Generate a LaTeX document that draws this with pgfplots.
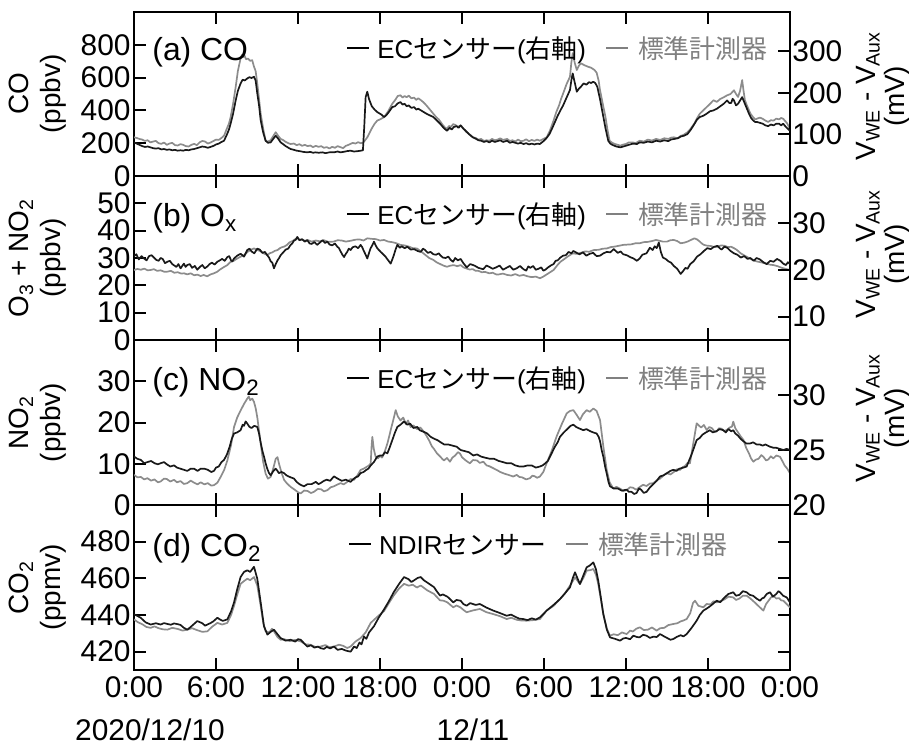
\documentclass[border=0pt]{standalone}
\usepackage{fontspec}
\setmainfont{Liberation Sans}
\newfontfamily\jpfont{Noto Sans CJK JP}
\usepackage{pgfplots}
\pgfplotsset{compat=1.18}

\definecolor{stdgray}{RGB}{140,140,140}
\definecolor{ecblack}{RGB}{25,25,25}
\definecolor{txtgray}{RGB}{128,128,128}

\pgfplotsset{
  base/.style={scale only axis, width=328bp, anchor=north west,
    xmin=0, xmax=48, xtick={0,6,...,48},
    tick align=inside, major tick length=6bp,
    axis line style={line width=1bp, black},
    major tick style={line width=1bp, black},
    tick label style={font=\fontsize{15}{15}\selectfont},
    /pgf/number format/assume math mode=true,
    /pgf/number format/1000 sep={}},
  leftpanel/.style={base, xticklabels={}, ytick pos=left,
    yticklabel style={inner xsep=1.5bp}},
  rightpanel/.style={base, axis x line=none, axis y line*=right,
    ytick pos=right, yticklabel style={inner xsep=1bp}},
  stdline/.style={stdgray, line width=0.85bp, line join=round},
  ecline/.style={ecblack, line width=0.85bp, line join=round},
}
\newcommand{\lgline}[1]{\textcolor{#1}{\rule[4.3bp]{11bp}{1.2bp}}}
\newcommand{\lglabel}{\fontsize{13}{13}\selectfont}

\begin{document}
\begin{tikzpicture}
\useasboundingbox (0,0) rectangle (454.5bp,-372.5bp);

% ---------- (a) CO ----------
\begin{axis}[leftpanel, at={(67bp,-6bp)}, height=82bp,
  ymin=0, ymax=1000, ytick={0,200,...,800}]
\addplot[stdline] coordinates {
(0,236)(0.2,232)(0.4,226)(0.6,222)(0.8,214)(1.0,218)(1.2,205)(1.4,210)(1.6,214)(1.8,200)
(2.0,196)(2.2,204)(2.4,190)(2.6,198)(2.8,202)(3.0,188)(3.2,186)(3.4,194)(3.6,190)(3.8,182)
(4.0,180)(4.2,190)(4.4,196)(4.6,188)(4.8,205)(5.0,214)(5.2,210)(5.4,198)(5.6,204)(5.85,215)
(6.0,222)(6.2,220)(6.4,232)(6.59,246)(6.8,290)(6.95,320)(7.07,359)(7.25,440)(7.44,543)(7.6,640)
(7.8,718)(7.9,738)(8.0,726)(8.1,732)(8.2,712)(8.35,716)(8.5,702)(8.65,706)(8.78,667)(8.9,640)
(9.02,565)(9.15,470)(9.27,380)(9.45,290)(9.63,215)(9.8,210)(10.0,218)(10.2,245)(10.37,267)(10.55,245)
(10.73,226)(10.9,220)(11.1,208)(11.3,200)(11.46,195)(11.7,198)(11.9,188)(12.1,194)(12.3,184)(12.5,190)
(12.7,182)(12.9,186)(13.1,176)(13.3,184)(13.5,178)(13.7,182)(13.9,172)(14.1,176)(14.3,168)(14.5,178)
(14.7,172)(14.9,182)(15.1,176)(15.3,170)(15.5,184)(15.7,190)(15.85,196)(16.0,202)(16.2,198)(16.4,206)
(16.6,200)(16.8,206)(17.07,236)(17.4,290)(17.6,318)(17.8,338)(18.0,345)(18.3,359)(18.6,395)(18.9,441)
(19.1,462)(19.3,488)(19.5,492)(19.65,478)(19.8,488)(19.95,480)(20.1,490)(20.3,474)(20.5,478)(20.65,464)
(20.8,474)(21.0,462)(21.2,448)(21.4,430)(21.6,410)(21.9,380)(22.1,360)(22.3,345)(22.45,328)(22.6,310)
(22.75,296)(22.9,288)(23.05,305)(23.2,300)(23.35,316)(23.5,312)(23.7,300)(23.9,308)(24.1,290)(24.3,270)
(24.5,258)(24.8,236)(25.0,232)(25.2,222)(25.4,226)(25.6,214)(25.8,218)(26.0,215)(26.2,226)(26.4,218)
(26.6,222)(26.8,230)(27.0,220)(27.3,226)(27.5,214)(27.7,218)(27.9,210)(28.1,222)(28.3,212)(28.5,215)
(28.7,224)(28.9,212)(29.1,220)(29.3,214)(29.5,222)(29.7,215)(29.9,224)(30.2,236)(30.45,280)(30.7,338)
(30.9,390)(31.1,430)(31.25,470)(31.4,503)(31.65,560)(31.9,605)(32.0,690)(32.1,749)(32.25,690)(32.4,646)
(32.55,672)(32.7,687)(32.95,676)(33.2,667)(33.45,660)(33.7,646)(33.85,630)(34.0,580)(34.1,523)(34.3,440)
(34.5,359)(34.65,280)(34.8,215)(35.0,202)(35.2,195)(35.4,190)(35.6,185)(35.8,192)(36.0,195)(36.2,205)
(36.5,205)(36.7,200)(37.0,215)(37.3,210)(37.6,222)(37.9,216)(38.2,226)(38.5,220)(38.8,230)(39.1,226)
(39.3,234)(39.5,236)(39.8,230)(40.0,245)(40.2,250)(40.5,267)(40.7,285)(41.0,320)(41.2,352)(41.4,380)
(41.65,400)(41.9,420)(42.15,440)(42.4,462)(42.65,452)(42.9,470)(43.15,480)(43.4,492)(43.65,500)(43.9,523)
(44.05,500)(44.2,482)(44.35,520)(44.5,585)(44.6,520)(44.7,462)(44.85,430)(45.0,400)(45.15,375)(45.3,359)
(45.45,345)(45.6,350)(45.8,356)(46.0,349)(46.2,338)(46.4,330)(46.6,340)(46.8,338)(47.0,350)(47.2,345)
(47.35,354)(47.5,349)(47.65,335)(47.8,320)(48.0,287)
};
\end{axis}
\begin{axis}[rightpanel, at={(67bp,-6bp)}, height=82bp,
  ymin=0, ymax=395, ytick={0,100,200,300}]
\addplot[ecline] coordinates {
(0,81)(0.2,78)(0.4,75)(0.6,72)(0.8,70)(1.0,71)(1.2,69)(1.4,67)(1.6,66)(1.8,67)
(2.0,64)(2.2,65)(2.4,63)(2.6,64)(2.8,62)(3.0,63)(3.2,61)(3.4,62)(3.6,61)(3.8,63)
(4.0,62)(4.2,64)(4.4,65)(4.6,67)(4.8,69)(5.0,71)(5.2,70)(5.4,68)(5.6,70)(5.85,73)
(6.0,76)(6.2,78)(6.4,82)(6.59,85)(6.8,100)(6.95,112)(7.07,126)(7.25,150)(7.44,182)(7.6,205)
(7.8,223)(7.95,232)(8.1,230)(8.29,235)(8.45,238)(8.6,236)(8.78,239)(8.9,230)(9.02,199)(9.15,170)
(9.27,134)(9.45,105)(9.63,85)(9.8,80)(10.0,81)(10.2,90)(10.37,97)(10.55,90)(10.73,81)(10.9,77)
(11.1,72)(11.3,68)(11.46,65)(11.7,63)(11.9,61)(12.1,60)(12.4,58)(12.68,57)(12.9,58)(13.1,56)
(13.3,57)(13.5,56)(13.8,57)(14.0,55)(14.3,57)(14.63,57)(14.9,59)(15.1,57)(15.3,58)(15.6,60)
(15.85,61)(16.1,59)(16.4,60)(16.6,61)(16.75,62)(16.85,120)(16.95,190)(17.07,203)(17.2,185)(17.4,168)
(17.6,160)(17.8,154)(18.1,148)(18.3,142)(18.45,146)(18.6,152)(18.9,166)(19.1,168)(19.3,175)(19.5,178)
(19.65,172)(19.8,174)(19.95,168)(20.1,170)(20.3,164)(20.5,166)(20.65,160)(20.8,162)(21.0,158)(21.2,154)
(21.4,150)(21.65,146)(21.9,142)(22.15,134)(22.4,126)(22.65,116)(22.9,109)(23.1,116)(23.25,112)(23.4,118)
(23.6,120)(23.75,116)(23.9,122)(24.1,114)(24.3,108)(24.5,101)(24.8,93)(25.0,90)(25.2,86)(25.4,85)
(25.6,82)(25.8,84)(26.0,81)(26.2,85)(26.4,82)(26.6,84)(26.8,86)(27.0,82)(27.3,85)(27.5,80)
(27.7,82)(27.9,80)(28.1,78)(28.3,80)(28.5,77)(28.7,79)(28.9,76)(29.1,78)(29.3,76)(29.5,78)
(29.7,77)(30.0,85)(30.2,92)(30.4,101)(30.6,115)(30.8,130)(31.0,145)(31.2,158)(31.4,170)(31.6,185)
(31.75,196)(31.9,207)(32.0,230)(32.1,247)(32.25,225)(32.4,203)(32.55,210)(32.7,215)(32.9,223)(33.1,220)
(33.3,226)(33.45,224)(33.6,227)(33.75,224)(33.9,215)(34.1,185)(34.3,150)(34.5,115)(34.7,85)(34.85,78)
(35.0,75)(35.3,71)(35.6,69)(35.9,72)(36.2,75)(36.5,78)(36.8,77)(37.0,81)(37.3,80)(37.6,83)
(37.9,81)(38.2,85)(38.5,83)(38.8,86)(39.1,84)(39.3,88)(39.5,89)(39.8,91)(40.0,95)(40.25,97)
(40.5,101)(40.75,112)(41.0,125)(41.2,136)(41.4,142)(41.65,145)(41.9,150)(42.15,156)(42.4,158)(42.65,162)
(42.9,168)(43.15,174)(43.4,182)(43.55,176)(43.7,176)(43.8,186)(43.9,182)(44.05,170)(44.2,174)(44.35,182)
(44.5,190)(44.6,182)(44.7,174)(44.85,162)(45.0,150)(45.15,140)(45.3,134)(45.45,130)(45.6,130)(45.8,128)
(46.0,126)(46.2,122)(46.4,120)(46.6,124)(46.8,122)(47.0,126)(47.2,126)(47.35,122)(47.5,126)(47.65,120)
(47.8,115)(48.0,109)
};
\end{axis}

% ---------- (b) Ox ----------
\begin{axis}[leftpanel, at={(67bp,-88bp)}, height=82bp,
  ymin=0, ymax=60, ytick={0,10,...,50}]
\addplot[stdline] coordinates {
(0,25.6)(0.25,26.0)(0.5,25.7)(0.75,26.1)(1.0,25.5)(1.2,25.6)(1.45,25.9)(1.7,25.3)(1.95,25.5)(2.2,25.0)
(2.44,25.0)(2.7,25.3)(2.95,24.6)(3.2,24.8)(3.45,24.3)(3.66,24.4)(3.9,24.0)(4.15,24.4)(4.4,23.7)(4.65,23.9)
(4.88,23.4)(5.1,23.8)(5.35,23.3)(5.6,24.0)(5.85,24.4)(6.1,25.0)(6.3,25.8)(6.55,26.6)(6.83,27.4)(7.05,28.5)
(7.3,29.0)(7.55,29.8)(7.8,30.5)(8.05,31.0)(8.3,32.2)(8.55,33.0)(8.78,33.5)(9.0,33.0)(9.2,32.6)(9.45,31.8)
(9.75,31.1)(9.95,31.8)(10.1,32.0)(10.3,32.6)(10.5,32.9)(10.65,33.5)(10.8,33.9)(11.0,34.2)(11.2,34.8)(11.4,35.8)
(11.6,36.2)(11.8,36.9)(11.95,37.2)(12.15,36.6)(12.3,36.8)(12.5,36.3)(12.7,36.6)(13.0,36.0)(13.3,36.4)(13.6,36.1)
(13.9,36.5)(14.2,35.9)(14.6,36.0)(14.9,36.5)(15.2,36.4)(15.5,36.0)(15.85,36.3)(16.2,36.7)(16.5,36.8)(16.8,36.4)
(17.07,37.2)(17.4,37.0)(17.7,36.9)(18.0,36.4)(18.3,36.6)(18.6,36.0)(18.9,35.8)(19.2,35.4)(19.5,34.8)(19.8,34.6)
(20.1,34.2)(20.4,33.6)(20.7,33.5)(21.0,32.4)(21.3,31.2)(21.6,30.0)(21.9,29.3)(22.15,28.4)(22.4,27.8)(22.65,27.2)
(22.9,26.8)(23.15,27.2)(23.4,27.4)(23.65,27.0)(23.9,27.4)(24.1,26.6)(24.3,26.2)(24.55,25.8)(24.8,25.9)(25.0,25.3)
(25.2,25.3)(25.45,24.8)(25.7,24.9)(26.0,24.4)(26.25,24.6)(26.5,24.0)(26.7,24.0)(27.0,24.3)(27.3,23.8)(27.6,23.6)
(27.9,24.1)(28.2,23.5)(28.5,23.8)(28.8,23.3)(29.1,23.0)(29.4,23.2)(29.7,22.6)(29.95,23.2)(30.2,24.0)(30.45,24.8)
(30.7,25.6)(31.0,27.5)(31.2,28.6)(31.4,29.3)(31.75,30.6)(32.1,31.7)(32.4,31.5)(32.7,31.9)(33.0,32.4)(33.3,32.3)
(33.65,32.9)(34.0,33.0)(34.3,33.4)(34.6,33.5)(34.9,34.0)(35.2,34.2)(35.5,34.5)(35.8,34.8)(36.1,34.9)(36.4,35.0)
(36.7,35.4)(37.0,35.4)(37.3,35.8)(37.6,35.9)(37.9,36.2)(38.2,36.6)(38.45,36.3)(38.7,36.0)(39.0,36.0)(39.25,36.5)
(39.5,36.6)(39.75,36.2)(40.0,35.4)(40.25,35.6)(40.5,36.0)(40.75,36.6)(41.0,37.2)(41.2,36.8)(41.4,36.0)(41.55,35.3)
(41.7,34.8)(41.95,34.5)(42.2,34.4)(42.45,34.0)(42.7,34.1)(42.95,34.6)(43.2,34.5)(43.45,34.0)(43.7,34.1)(43.9,33.6)
(44.1,33.0)(44.4,31.7)(44.7,30.8)(45.0,30.0)(45.3,29.2)(45.6,28.7)(45.9,28.4)(46.2,28.0)(46.5,27.6)(46.8,27.4)
(47.1,27.0)(47.4,26.4)(47.7,26.0)(48.0,25.6)
};
\end{axis}
\begin{axis}[rightpanel, at={(67bp,-88bp)}, height=82bp,
  ymin=5, ymax=40, ytick={10,20,30}]
\addplot[ecline] coordinates {
(0,22.9)(0.17,23.3)(0.35,22.2)(0.55,22.9)(0.73,22.4)(0.92,22.0)(1.1,22.9)(1.28,23.1)(1.46,22.6)(1.63,22.1)
(1.8,21.9)(1.95,22.5)(2.1,22.3)(2.27,21.4)(2.44,21.7)(2.62,21.9)(2.8,21.2)(2.95,20.9)(3.1,20.6)(3.25,21.2)
(3.41,20.3)(3.53,20.8)(3.65,21.3)(3.78,20.6)(3.9,21.0)(4.08,21.2)(4.25,20.4)(4.45,20.8)(4.63,20.0)(4.82,20.6)
(5.0,21.0)(5.18,20.3)(5.37,20.7)(5.53,21.2)(5.7,21.5)(5.9,21.1)(6.1,21.7)(6.28,22.0)(6.45,22.3)(6.64,21.9)
(6.83,22.7)(6.97,22.9)(7.1,22.0)(7.2,21.8)(7.32,22.4)(7.55,23.0)(7.8,23.4)(8.05,22.8)(8.29,24.2)(8.45,24.5)
(8.6,23.9)(8.8,23.5)(9.02,24.5)(9.2,24.3)(9.4,23.6)(9.58,23.8)(9.75,23.1)(9.88,22.6)(10.0,21.8)(10.12,21.5)
(10.24,20.3)(10.37,21.2)(10.5,22.0)(10.62,22.5)(10.73,23.1)(10.92,23.7)(11.1,24.3)(11.28,24.5)(11.46,25.3)(11.58,25.6)
(11.7,26.2)(11.83,26.4)(11.95,27.0)(12.1,26.3)(12.3,26.5)(12.5,26.0)(12.68,26.3)(12.85,25.6)(13.0,25.5)(13.2,25.9)
(13.4,25.3)(13.6,25.8)(13.8,26.3)(13.98,25.7)(14.15,26.0)(14.3,25.4)(14.5,25.2)(14.7,25.6)(14.88,24.9)(15.0,24.6)
(15.1,24.0)(15.25,23.2)(15.37,22.7)(15.5,23.4)(15.6,23.8)(15.72,24.5)(15.85,24.2)(16.0,24.8)(16.2,25.0)(16.4,24.6)
(16.58,25.3)(16.7,24.8)(16.8,24.1)(16.95,23.2)(17.07,22.4)(17.2,23.6)(17.3,24.5)(17.45,25.3)(17.56,26.0)(17.68,25.2)
(17.8,24.6)(17.92,24.2)(18.05,23.8)(18.2,23.4)(18.4,22.8)(18.6,22.0)(18.78,21.3)(18.9,22.2)(19.0,23.0)(19.15,24.4)
(19.27,25.3)(19.45,24.7)(19.6,25.0)(19.8,24.6)(20.0,24.9)(20.25,24.3)(20.5,24.4)(20.75,24.0)(20.98,23.8)(21.15,24.5)
(21.3,24.2)(21.5,23.6)(21.7,23.8)(21.9,23.3)(22.1,23.2)(22.3,23.5)(22.44,23.0)(22.6,22.6)(22.8,22.5)(23.0,22.8)
(23.17,22.1)(23.35,21.7)(23.5,22.5)(23.7,22.0)(23.9,22.3)(24.1,21.4)(24.35,20.5)(24.6,21.2)(24.9,20.9)(25.2,20.4)
(25.55,20.1)(25.8,20.9)(26.0,20.6)(26.25,20.2)(26.5,20.5)(26.75,20.9)(27.0,20.0)(27.25,20.4)(27.5,20.8)(27.75,20.0)
(28.0,20.3)(28.25,20.8)(28.5,20.1)(28.7,19.8)(28.85,20.7)(29.0,20.4)(29.2,20.8)(29.4,20.0)(29.6,20.2)(29.8,20.5)
(29.95,19.8)(30.1,20.0)(30.3,20.5)(30.5,20.9)(30.7,21.2)(30.85,21.9)(31.0,22.0)(31.2,22.6)(31.4,23.0)(31.6,23.1)
(31.8,23.8)(32.0,23.5)(32.15,24.0)(32.4,23.6)(32.6,23.3)(32.85,23.7)(33.1,23.0)(33.35,23.4)(33.6,23.6)(33.85,22.9)
(34.1,23.0)(34.35,23.5)(34.6,23.8)(34.85,23.7)(35.1,24.4)(35.25,24.0)(35.4,23.6)(35.6,23.9)(35.8,23.3)(36.05,23.1)
(36.3,22.7)(36.55,22.4)(36.8,21.9)(37.0,22.4)(37.2,23.2)(37.5,23.5)(37.75,24.7)(37.95,24.2)(38.1,25.0)(38.25,24.6)
(38.4,25.8)(38.55,23.8)(38.7,22.6)(38.9,22.3)(39.1,21.8)(39.3,21.5)(39.5,20.8)(39.75,20.2)(40.0,19.1)(40.15,19.6)
(40.35,20.4)(40.5,20.2)(40.7,21.2)(40.95,21.8)(41.2,22.8)(41.45,23.3)(41.7,24.0)(41.95,24.6)(42.2,24.4)(42.45,24.9)
(42.7,25.1)(42.85,24.6)(43.0,24.3)(43.2,24.9)(43.4,24.7)(43.65,24.0)(43.9,23.5)(44.15,23.2)(44.4,22.6)(44.65,22.9)
(44.9,22.3)(45.1,22.5)(45.35,21.9)(45.55,22.5)(45.8,22.2)(46.05,21.6)(46.3,21.2)(46.55,21.9)(46.8,21.7)(47.05,22.3)
(47.3,21.9)(47.5,21.3)(47.7,21.0)(47.85,21.6)(48.0,21.2)
};
\end{axis}

% ---------- (c) NO2 ----------
\begin{axis}[leftpanel, at={(67bp,-170bp)}, height=82.5bp,
  ymin=0, ymax=40, ytick={0,10,20,30}]
\addplot[stdline] coordinates {
(0,7.3)(0.25,6.7)(0.5,6.8)(0.75,6.2)(0.98,6.5)(1.25,5.9)(1.5,6.2)(1.75,5.5)(1.95,5.7)(2.2,6.4)
(2.4,6.3)(2.65,5.7)(2.93,6.1)(3.15,5.5)(3.4,5.8)(3.65,5.1)(3.9,5.3)(4.15,5.9)(4.4,5.4)(4.65,5.0)
(4.88,5.5)(5.15,5.0)(5.4,5.3)(5.65,4.7)(5.85,4.8)(6.1,5.4)(6.34,6.8)(6.6,8.5)(6.83,10.8)(7.1,14.5)
(7.32,18.9)(7.55,21.2)(7.8,22.9)(8.05,24.5)(8.29,25.8)(8.4,26.3)(8.5,25.4)(8.65,25.8)(8.78,25.0)(8.9,23.5)
(9.02,21.3)(9.15,18.0)(9.27,14.9)(9.45,10.5)(9.63,7.6)(9.8,6.4)(10.0,6.8)(10.2,9.0)(10.37,11.2)(10.5,11.6)
(10.61,10.0)(10.8,7.8)(10.98,6.1)(11.2,5.2)(11.46,4.4)(11.8,3.6)(12.0,3.1)(12.2,2.8)(12.45,3.5)(12.7,3.4)
(12.95,2.9)(13.17,3.2)(13.45,3.9)(13.7,3.8)(13.9,3.3)(14.15,3.6)(14.4,4.3)(14.6,4.5)(14.85,4.9)(15.12,5.3)
(15.35,5.0)(15.6,5.6)(15.85,6.3)(16.1,6.1)(16.35,7.2)(16.58,8.5)(16.8,8.8)(17.0,9.2)(17.2,9.6)(17.32,10.1)
(17.38,14.0)(17.44,16.5)(17.55,13.5)(17.68,11.7)(17.85,11.3)(18.0,11.9)(18.15,11.5)(18.3,12.5)(18.55,15.0)(18.78,18.1)
(19.0,21.0)(19.15,23.0)(19.3,21.5)(19.5,20.5)(19.7,21.2)(19.9,19.6)(20.05,20.5)(20.24,18.9)(20.45,19.3)(20.7,18.4)
(20.95,18.8)(21.22,17.7)(21.4,16.8)(21.6,15.6)(21.8,14.2)(21.95,13.6)(22.15,12.6)(22.39,11.8)(22.55,11.2)(22.68,10.8)
(22.9,11.4)(23.12,10.5)(23.3,11.5)(23.5,12.0)(23.7,12.8)(23.85,12.5)(24.0,11.6)(24.2,11.0)(24.4,10.5)(24.58,10.1)
(24.8,10.9)(25.1,10.8)(25.3,10.2)(25.56,10.5)(25.8,9.6)(26.0,9.4)(26.3,8.9)(26.54,8.5)(26.8,8.0)(27.1,7.6)
(27.4,7.3)(27.75,6.9)(28.0,7.3)(28.2,6.8)(28.4,6.7)(28.7,6.2)(28.97,6.5)(29.15,7.1)(29.3,7.0)(29.5,6.6)
(29.7,6.9)(29.95,8.0)(30.19,10.1)(30.55,13.0)(30.92,16.6)(31.3,19.6)(31.66,22.2)(31.9,22.8)(32.15,23.0)(32.4,21.8)
(32.63,20.6)(32.85,22.0)(33.12,23.0)(33.35,22.6)(33.61,23.4)(33.85,22.8)(34.1,20.6)(34.35,14.0)(34.59,8.5)(34.8,5.5)
(35.07,4.0)(35.3,4.4)(35.6,3.9)(35.8,3.4)(36.05,3.6)(36.3,4.3)(36.5,4.2)(36.75,3.7)(37.02,4.4)(37.25,4.9)
(37.5,4.6)(37.75,5.2)(38.0,5.3)(38.25,6.0)(38.5,6.4)(38.75,7.2)(38.98,7.7)(39.25,7.4)(39.5,8.0)(39.75,8.7)
(39.95,8.5)(40.15,9.2)(40.3,9.4)(40.5,10.2)(40.68,10.1)(40.9,14.5)(41.17,19.8)(41.35,19.2)(41.5,18.8)(41.7,19.4)
(41.9,18.2)(42.1,18.9)(42.3,18.6)(42.45,17.9)(42.63,17.8)(42.8,18.6)(43.0,18.5)(43.2,17.9)(43.37,18.2)(43.6,18.8)
(43.75,19.0)(43.85,20.2)(44.0,18.6)(44.2,17.6)(44.4,16.6)(44.59,15.8)(44.8,13.8)(45.0,12.5)(45.15,11.3)(45.32,10.5)
(45.5,11.0)(45.7,11.2)(45.9,12.1)(46.05,11.7)(46.25,10.8)(46.4,11.0)(46.6,11.8)(46.78,11.3)(47.0,12.0)(47.27,11.7)
(47.45,10.6)(47.6,9.6)(47.8,8.8)(48.0,7.7)
};
\end{axis}
\begin{axis}[rightpanel, at={(67bp,-170bp)}, height=82.5bp,
  ymin=20, ymax=35, ytick={20,25,30}]
\addplot[ecline] coordinates {
(0,24.4)(0.25,24.2)(0.5,24.1)(0.75,23.8)(0.98,23.9)(1.25,24.0)(1.5,23.8)(1.75,23.7)(1.95,23.8)(2.2,23.9)
(2.4,23.7)(2.65,23.5)(2.93,23.6)(3.15,23.4)(3.4,23.3)(3.65,23.2)(3.9,23.1)(4.15,23.3)(4.4,23.3)(4.65,23.1)
(4.88,23.3)(5.15,23.3)(5.4,23.2)(5.65,23.0)(5.85,23.1)(6.0,23.4)(6.2,23.5)(6.4,23.9)(6.59,24.1)(6.8,24.6)
(7.0,25.3)(7.15,26.0)(7.32,26.5)(7.55,26.6)(7.8,26.8)(7.95,27.3)(8.05,27.2)(8.17,27.6)(8.29,27.4)(8.45,27.1)
(8.6,27.0)(8.8,27.2)(9.02,27.1)(9.15,26.5)(9.25,25.8)(9.38,25.0)(9.51,24.4)(9.63,23.8)(9.75,23.3)(9.88,22.9)
(10.0,22.7)(10.2,23.1)(10.37,23.3)(10.5,23.1)(10.6,22.9)(10.8,23.0)(10.98,22.9)(11.15,22.7)(11.3,22.6)(11.5,22.5)
(11.71,22.4)(11.9,22.1)(12.1,21.9)(12.25,21.8)(12.44,21.7)(12.7,21.9)(13.0,21.9)(13.3,22.1)(13.5,21.9)(13.66,22.0)
(13.9,22.2)(14.1,22.3)(14.35,22.2)(14.63,22.6)(14.9,22.4)(15.2,22.2)(15.5,22.3)(15.85,22.1)(16.0,22.3)(16.2,22.5)
(16.4,22.6)(16.58,22.9)(16.8,23.0)(17.0,23.2)(17.15,23.3)(17.32,23.6)(17.55,23.9)(17.8,24.4)(18.0,24.5)(18.2,24.5)
(18.35,24.8)(18.54,24.7)(18.7,25.2)(18.9,25.9)(19.1,26.6)(19.27,27.1)(19.5,27.3)(19.76,27.6)(20.0,27.3)(20.2,27.4)
(20.45,27.0)(20.73,27.1)(20.9,26.8)(21.1,26.7)(21.3,26.6)(21.46,26.5)(21.7,26.2)(22.0,26.0)(22.2,25.9)(22.44,25.7)
(22.7,25.5)(23.0,25.5)(23.3,25.4)(23.61,25.3)(23.9,25.0)(24.2,24.9)(24.5,24.8)(24.83,24.5)(25.1,24.6)(25.4,24.4)
(25.7,24.3)(26.05,24.2)(26.35,24.2)(26.7,24.0)(27.0,23.9)(27.27,23.8)(27.6,23.8)(27.9,23.6)(28.2,23.5)(28.5,23.5)
(28.8,23.6)(29.1,23.6)(29.4,23.4)(29.7,23.5)(29.9,23.6)(30.1,23.8)(30.28,24.0)(30.44,24.4)(30.6,24.8)(30.8,25.3)
(31.0,25.7)(31.17,26.2)(31.45,26.6)(31.7,26.9)(31.95,27.2)(32.15,27.3)(32.35,27.1)(32.5,27.0)(32.7,26.9)(32.88,26.8)
(33.1,26.9)(33.4,26.7)(33.6,26.6)(33.85,26.5)(34.0,26.2)(34.1,25.8)(34.22,25.0)(34.34,24.4)(34.47,23.5)(34.6,22.8)
(34.72,22.1)(34.83,21.7)(35.1,21.5)(35.4,21.5)(35.7,21.3)(36.05,21.4)(36.2,21.2)(36.4,21.2)(36.6,21.0)(36.78,21.1)
(36.95,21.5)(37.1,21.4)(37.3,21.1)(37.51,21.2)(37.75,21.6)(38.0,21.9)(38.25,22.2)(38.49,22.6)(38.75,22.7)(39.0,22.9)
(39.25,23.1)(39.46,23.2)(39.7,23.1)(39.9,23.3)(40.2,23.4)(40.44,23.5)(40.6,24.0)(40.8,24.6)(41.0,25.3)(41.17,25.9)
(41.4,26.1)(41.6,26.4)(41.85,26.6)(42.14,26.8)(42.35,26.6)(42.6,26.7)(42.85,26.9)(43.12,26.8)(43.3,26.6)(43.5,26.9)
(43.7,26.7)(43.85,26.8)(44.0,26.5)(44.2,26.3)(44.4,26.0)(44.59,25.8)(44.8,25.6)(45.1,25.6)(45.3,25.7)(45.56,25.5)
(45.8,25.5)(46.0,25.4)(46.2,25.5)(46.54,25.3)(46.8,25.2)(47.0,25.2)(47.25,25.1)(47.51,25.0)(47.75,25.1)(48.0,25.0)
};
\end{axis}

% ---------- (d) CO2 ----------
\begin{axis}[base, at={(67bp,-252.5bp)}, height=82.5bp,
  ymin=410, ymax=500, ytick={420,440,...,480},
  ytick pos=both, yticklabel pos=left, yticklabel style={inner xsep=1.5bp},
  xticklabels={0:00,6:00,12:00,18:00,0:00,6:00,12:00,18:00,0:00}]
\addplot[stdline] coordinates {
(0,437.6)(0.3,436.0)(0.6,435.0)(0.9,433.5)(1.22,433.0)(1.5,433.8)(1.8,432.8)(2.1,432.2)(2.44,432.0)(2.8,433.0)
(3.2,432.4)(3.55,431.5)(3.9,432.0)(4.25,432.8)(4.6,431.8)(5.0,430.8)(5.37,431.1)(5.7,433.5)(6.1,435.7)(6.45,434.8)
(6.83,435.7)(7.1,440.0)(7.32,445.0)(7.55,451.0)(7.8,457.0)(8.05,458.5)(8.29,459.8)(8.5,459.0)(8.78,460.7)(9.02,456.1)
(9.27,445.0)(9.45,436.0)(9.63,431.1)(9.9,430.5)(10.1,432.5)(10.24,431.1)(10.5,428.0)(10.73,426.5)(11.0,426.8)(11.4,425.8)
(11.8,426.4)(12.2,425.6)(12.55,424.0)(12.9,423.8)(13.3,422.5)(13.66,422.8)(14.0,423.6)(14.3,422.4)(14.63,422.8)(15.0,423.8)
(15.3,423.2)(15.6,422.0)(15.85,422.8)(16.2,425.5)(16.58,427.4)(16.95,430.5)(17.32,435.7)(17.8,439.0)(18.3,442.2)(18.65,446.5)
(19.0,450.6)(19.4,454.5)(19.76,457.0)(20.1,456.0)(20.4,456.5)(20.7,455.0)(20.98,456.1)(21.45,453.5)(21.95,451.5)(22.2,449.5)
(22.39,448.0)(22.65,447.8)(22.93,446.9)(23.15,445.5)(23.36,444.2)(23.6,445.2)(23.9,444.1)(24.1,442.8)(24.34,441.5)(24.8,442.5)
(25.31,443.3)(25.8,441.5)(26.29,440.5)(26.8,439.3)(27.27,437.8)(27.6,438.5)(28.0,437.4)(28.35,437.0)(28.73,436.9)(29.2,437.2)
(29.7,437.8)(30.19,442.4)(30.7,445.0)(31.17,448.7)(31.5,451.5)(31.9,456.0)(32.27,460.5)(32.63,456.9)(32.9,460.5)(33.12,464.2)
(33.4,464.5)(33.61,465.1)(33.8,462.0)(33.97,456.9)(34.15,449.0)(34.34,440.5)(34.6,432.5)(34.83,428.7)(35.1,429.5)(35.4,429.0)
(35.7,430.5)(36.05,429.6)(36.3,431.5)(36.5,431.0)(36.75,432.5)(37.02,433.3)(37.3,431.8)(37.6,432.0)(37.9,433.2)(38.24,431.5)
(38.5,432.8)(38.8,433.0)(39.1,434.5)(39.46,435.1)(39.75,435.5)(40.0,436.5)(40.2,437.0)(40.44,437.8)(40.7,441.0)(40.9,446.5)
(41.05,447.8)(41.3,445.0)(41.66,444.2)(41.9,446.0)(42.2,445.8)(42.4,447.5)(42.63,446.9)(42.9,447.5)(43.2,448.5)(43.5,450.0)
(43.85,449.6)(44.05,448.2)(44.3,449.0)(44.55,450.5)(44.83,450.5)(45.1,449.0)(45.4,447.0)(45.75,444.5)(46.05,442.4)(46.25,446.0)
(46.4,447.5)(46.6,449.5)(46.78,450.5)(47.0,449.0)(47.2,449.2)(47.35,448.0)(47.51,447.8)(47.75,446.0)(48.0,444.2)
};
\addplot[ecline] coordinates {
(0,440.4)(0.25,439.5)(0.49,438.5)(0.85,436.0)(1.22,434.8)(1.6,435.5)(1.95,434.8)(2.2,435.6)(2.4,435.2)(2.7,434.7)
(2.93,435.4)(3.2,435.0)(3.4,434.6)(3.65,433.0)(3.9,432.0)(4.1,433.2)(4.3,434.5)(4.63,436.7)(5.0,435.5)(5.2,434.2)
(5.37,434.8)(5.6,435.6)(5.8,436.5)(6.1,438.5)(6.3,437.5)(6.5,436.8)(6.83,437.6)(7.1,442.0)(7.32,446.9)(7.55,454.0)
(7.8,460.7)(8.05,463.5)(8.29,464.4)(8.5,463.5)(8.65,465.0)(8.78,466.3)(9.02,459.8)(9.27,446.9)(9.51,433.9)(9.76,429.3)
(10.0,430.8)(10.24,432.0)(10.5,429.5)(10.73,427.4)(11.1,426.0)(11.46,426.5)(11.8,425.5)(12.0,426.8)(12.2,426.5)(12.45,424.5)
(12.68,422.8)(12.95,423.5)(13.2,422.2)(13.45,422.8)(13.66,421.9)(13.9,421.5)(14.1,422.6)(14.35,421.8)(14.63,422.8)(14.9,421.0)
(15.2,421.5)(15.5,420.6)(15.85,420.0)(16.1,422.8)(16.3,422.0)(16.5,425.0)(16.65,424.0)(16.83,428.3)(17.0,427.0)(17.2,430.5)
(17.56,433.9)(17.9,438.5)(18.3,443.1)(18.65,447.5)(19.0,452.4)(19.4,457.0)(19.76,460.7)(20.1,459.5)(20.3,458.0)(20.49,458.9)
(20.75,460.2)(20.98,460.7)(21.2,459.0)(21.5,457.5)(21.95,455.2)(22.15,453.0)(22.39,450.6)(22.6,451.2)(22.93,450.0)(23.15,448.5)
(23.36,446.9)(23.6,448.2)(23.9,447.8)(24.1,446.0)(24.34,445.1)(24.6,446.5)(25.0,445.5)(25.31,446.0)(25.8,444.0)(26.29,442.4)
(26.8,441.0)(27.27,439.6)(27.6,440.2)(27.9,439.0)(28.2,438.0)(28.49,437.8)(28.8,437.2)(29.1,438.2)(29.4,437.5)(29.7,438.7)
(29.95,440.5)(30.19,442.4)(30.7,445.5)(31.17,448.7)(31.5,451.5)(31.9,455.1)(32.1,460.0)(32.27,463.3)(32.45,460.0)(32.63,456.9)
(32.85,461.0)(33.12,466.0)(33.35,467.0)(33.61,468.7)(33.8,465.0)(33.97,458.7)(34.15,450.0)(34.34,440.5)(34.6,432.0)(34.83,427.8)
(35.2,427.0)(35.56,426.0)(35.8,427.2)(36.0,427.5)(36.3,426.8)(36.54,428.7)(36.8,428.0)(37.0,427.8)(37.25,429.2)(37.51,428.7)
(37.75,427.5)(38.0,428.2)(38.25,428.0)(38.49,429.6)(38.75,428.5)(39.0,427.5)(39.25,426.5)(39.46,426.9)(39.7,428.0)(40.0,429.0)
(40.2,428.3)(40.44,429.6)(40.8,433.0)(41.17,436.9)(41.4,440.0)(41.66,442.4)(41.9,443.5)(42.1,444.5)(42.35,446.0)(42.63,447.8)
(42.9,447.0)(43.2,449.5)(43.5,451.5)(43.85,452.4)(44.05,450.5)(44.3,451.0)(44.55,453.0)(44.83,452.4)(45.05,451.0)(45.3,450.5)
(45.55,449.0)(45.8,447.8)(45.95,449.0)(46.1,449.5)(46.3,451.5)(46.54,452.4)(46.75,450.0)(47.0,451.5)(47.15,453.0)(47.27,452.4)
(47.5,450.5)(47.76,449.6)(48.0,446.9)
};
\end{axis}

% ---------- panel titles ----------
\begin{scope}[every node/.style={anchor=base west, inner sep=0, font=\fontsize{16}{16}\selectfont}]
\node at (76bp,-30bp) {(a) CO};
\node at (76bp,-113bp) {(b) O\textsubscript{x}};
\node at (76bp,-195bp) {(c) NO\textsubscript{2}};
\node at (76bp,-278bp) {(d) CO\textsubscript{2}};
\end{scope}

% ---------- legends ----------
\begin{scope}[every node/.style={anchor=base east, inner sep=0, font=\lglabel}]
\node at (384bp,-29bp) {\lgline{black}\hspace{4bp}EC{\jpfont センサー}({\jpfont 右軸})\hspace{10bp}\textcolor{txtgray}{\lgline{txtgray}\hspace{5bp}{\jpfont 標準計測器}}};
\node at (384bp,-112bp) {\lgline{black}\hspace{4bp}EC{\jpfont センサー}({\jpfont 右軸})\hspace{10bp}\textcolor{txtgray}{\lgline{txtgray}\hspace{5bp}{\jpfont 標準計測器}}};
\node at (384bp,-194bp) {\lgline{black}\hspace{4bp}EC{\jpfont センサー}({\jpfont 右軸})\hspace{10bp}\textcolor{txtgray}{\lgline{txtgray}\hspace{5bp}{\jpfont 標準計測器}}};
\node at (364bp,-277bp) {\lgline{black}\hspace{4bp}NDIR{\jpfont センサー}\hspace{10bp}\textcolor{txtgray}{\lgline{txtgray}\hspace{5bp}{\jpfont 標準計測器}}};
\end{scope}

% ---------- axis titles ----------
\begin{scope}[every node/.style={rotate=90, align=center, inner sep=0, font=\fontsize{14}{16}\selectfont}]
\node at (19bp,-47bp) {CO\\(ppbv)};
\node at (19bp,-129bp) {O\textsubscript{3} + NO\textsubscript{2}\\(ppbv)};
\node at (19bp,-211.25bp) {NO\textsubscript{2}\\(ppbv)};
\node at (19bp,-293.75bp) {CO\textsubscript{2}\\(ppmv)};
\end{scope}
\begin{scope}[every node/.style={rotate=90, align=center, inner sep=0, font=\fontsize{14}{14.5}\selectfont}]
\node at (441.5bp,-48bp) {V\textsubscript{WE} - V\textsubscript{Aux}\\(mV)};
\node at (441.5bp,-127bp) {V\textsubscript{WE} - V\textsubscript{Aux}\\(mV)};
\node at (441.5bp,-209bp) {V\textsubscript{WE} - V\textsubscript{Aux}\\(mV)};
\end{scope}

% ---------- dates ----------
\node[font=\fontsize{15}{15}\selectfont] at (75bp,-365bp) {2020/12/10};
\node[font=\fontsize{15}{15}\selectfont] at (236.5bp,-365bp) {12/11};
\end{tikzpicture}
\end{document}
